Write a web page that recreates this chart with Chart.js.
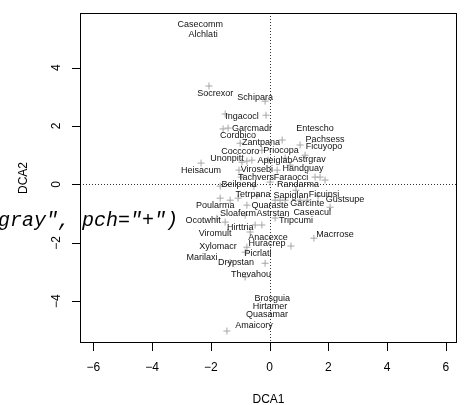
<!DOCTYPE html>
<html>
<head>
<meta charset="utf-8">
<script src="https://cdn.jsdelivr.net/npm/chart.js@4"></script>
<style>
  body { margin: 0; background: #fff; }
  canvas { display: block; }
</style>
</head>
<body>
<canvas id="dca" width="467" height="405"></canvas>
<script>
// species scores (gray "+" points)
const pointX = [-2.06, -0.15, -1.51, -0.12, -1.58, -1.41, -1.00, -2.33, -0.94, -0.77,
  -0.60, -1.04, -0.97, -1.68, -0.53, 0.43, 1.04, 1.21, 0.26, 0.53,
  1.55, 1.72, 1.89, 0.02, -1.68, -1.34, -1.07, -0.43, -0.77, -1.79,
  -1.51, -0.49, -0.26, -0.66, -0.83, -1.34, -0.15, 0.19, 0.36, 0.53,
  1.04, 1.28, 2.06, 0.19, 1.51, 0.73, -1.45, -0.83, -0.77, -0.05,
  -0.26, 0.70, 0.90, 1.65, -0.83];
const pointY = [3.37, 2.85, 2.41, 2.37, 1.90, 1.93, 1.41, 0.73, 0.76, 0.80,
  0.83, 0.49, 0.25, -0.06, -0.06, 1.52, 1.35, 1.00, 0.49, 0.90,
  0.25, 0.25, 0.15, 0.08, -0.47, -0.54, -0.47, -0.37, -0.71, -1.16,
  -1.29, -1.39, -1.39, -1.63, -2.32, -2.67, -2.70, -0.54, -0.54, -0.54,
  -0.54, -0.54, -0.78, -1.15, -1.84, -2.11, -5.02, -3.17, -2.15, 0.83,
  1.17, 0.66, -0.20, -0.40, -1.05];

// species labels and where they were placed
const species = ['Casecomm', 'Alchlati', 'Socrexor', 'Schipara', 'Ingacocl', 'Garcmadr',
  'Cordbico', 'Zantpana', 'Cocccoro', 'Priocopa', 'Unonpitt', 'Apeiglab', 'Astrgrav',
  'Heisacum', 'Virosebi', 'Handguay', 'Tachvers', 'Faraocci', 'Entescho', 'Pachsess',
  'Ficuyopo', 'Beilpend', 'Randarma', 'Tetrpana', 'Sapiglan', 'Ficuinsi', 'Gustsupe',
  'Poularma', 'Quaraste', 'Garcinte', 'Sloaferm', 'Astrstan', 'Caseacul', 'Ocotwhit',
  'Tripcumi', 'Hirttria', 'Viromult', 'Anacexce', 'Macrrose', 'Huracrep', 'Xylomacr',
  'Picrlati', 'Marilaxi', 'Drypstan', 'Thevahou', 'Brosguia', 'Hirtamer', 'Quasamar',
  'Amaicory'];
const labelX = [-2.36, -2.26, -1.85, -0.49, -0.94, -0.60, -1.07, -0.29, -1.00, 0.39,
  -1.45, 0.19, 1.34, -2.33, -0.43, 1.14, -0.46, 0.73, 1.55, 1.89,
  1.85, -1.04, 0.97, -0.56, 0.73, 1.85, 2.57, -1.85, 0.02, 1.28,
  -1.07, 0.12, 1.45, -2.26, 0.90, -1.00, -1.85, -0.05, 2.23, -0.09,
  -1.75, -0.39, -2.30, -1.14, -0.63, 0.09, 0.02, -0.09, -0.53];
const labelY = [5.46, 5.15, 3.13, 2.99, 2.34, 1.90, 1.69, 1.45, 1.14, 1.17,
  0.90, 0.83, 0.87, 0.49, 0.52, 0.56, 0.25, 0.25, 1.93, 1.55,
  1.31, -0.02, -0.02, -0.33, -0.37, -0.33, -0.50, -0.71, -0.71, -0.67,
  -0.98, -0.98, -0.95, -1.22, -1.22, -1.46, -1.67, -1.81, -1.71, -2.01,
  -2.11, -2.35, -2.49, -2.69, -3.10, -3.89, -4.17, -4.44, -4.82];

const xTicks = [-6, -4, -2, 0, 2, 4, 6];
const yTicks = [-4, -2, 0, 2, 4];

const fmt = v => (v < 0 ? '\u2212' + Math.abs(v) : String(v));

// R-style frame, axes, zero lines and labels
const rPlot = {
  id: 'rPlot',
  beforeDatasetsDraw(chart) {
    const { ctx, chartArea: a, scales: { x, y } } = chart;
    const x0 = x.getPixelForValue(0), y0 = y.getPixelForValue(0);
    ctx.save();
    ctx.strokeStyle = '#333';
    ctx.lineWidth = 1;
    ctx.setLineDash([1, 2]);
    ctx.beginPath();
    ctx.moveTo(Math.round(x0) + 0.5, a.top);
    ctx.lineTo(Math.round(x0) + 0.5, a.bottom);
    ctx.moveTo(a.left, Math.round(y0) + 0.5);
    ctx.lineTo(a.right, Math.round(y0) + 0.5);
    ctx.stroke();
    ctx.restore();
  },
  afterDraw(chart) {
    const { ctx, chartArea: a, scales: { x, y } } = chart;
    ctx.save();

    // species names
    ctx.fillStyle = '#111';
    ctx.font = '9px "Liberation Sans", Arial, sans-serif';
    ctx.textAlign = 'center';
    ctx.textBaseline = 'middle';
    species.forEach((s, i) => {
      ctx.fillText(s, x.getPixelForValue(labelX[i]), y.getPixelForValue(labelY[i]));
    });

    // box
    ctx.strokeStyle = '#000';
    ctx.lineWidth = 1;
    ctx.strokeRect(a.left + 0.5, a.top + 0.5, a.right - a.left - 1, a.bottom - a.top - 1);

    // ticks
    ctx.beginPath();
    xTicks.forEach(t => {
      const px = Math.round(x.getPixelForValue(t)) + 0.5;
      ctx.moveTo(px, a.bottom);
      ctx.lineTo(px, a.bottom + 8);
    });
    yTicks.forEach(t => {
      const py = Math.round(y.getPixelForValue(t)) + 0.5;
      ctx.moveTo(a.left, py);
      ctx.lineTo(a.left - 8, py);
    });
    ctx.stroke();

    ctx.fillStyle = '#000';
    ctx.font = '12px "Liberation Sans", Arial, sans-serif';
    ctx.textAlign = 'center';
    ctx.textBaseline = 'middle';
    xTicks.forEach(t => ctx.fillText(fmt(t), x.getPixelForValue(t), a.bottom + 25));
    ctx.fillText('DCA1', (a.left + a.right) / 2, a.bottom + 57);

    yTicks.forEach(t => {
      ctx.save();
      ctx.translate(a.left - 23, y.getPixelForValue(t));
      ctx.rotate(-Math.PI / 2);
      ctx.fillText(fmt(t), 0, 0);
      ctx.restore();
    });
    ctx.save();
    ctx.translate(a.left - 56, (a.top + a.bottom) / 2);
    ctx.rotate(-Math.PI / 2);
    ctx.fillText('DCA2', 0, 0);
    ctx.restore();

    // stray code text bleeding into the figure
    ctx.font = 'italic 20px "Liberation Mono", "DejaVu Sans Mono", monospace';
    ctx.textAlign = 'left';
    ctx.textBaseline = 'alphabetic';
    ctx.fillStyle = '#000';
    ctx.fillText('gray", pch="+")', -2, 226);

    ctx.restore();
  }
};

new Chart(document.getElementById('dca'), {
  type: 'scatter',
  data: {
    datasets: [{
      data: pointX.map((v, i) => ({ x: v, y: pointY[i] })),
      pointStyle: 'cross',
      radius: 3.5,
      borderColor: '#a6a6a6',
      borderWidth: 1
    }]
  },
  options: {
    responsive: false,
    animation: false,
    layout: { padding: { left: 80, right: 10, top: 13, bottom: 62 } },
    plugins: { legend: { display: false }, tooltip: { enabled: false } },
    scales: {
      x: { type: 'linear', display: false, min: -6.45, max: 6.38 },
      y: { type: 'linear', display: false, min: -5.43, max: 5.87 }
    }
  },
  plugins: [rPlot]
});
</script>
</body>
</html>
